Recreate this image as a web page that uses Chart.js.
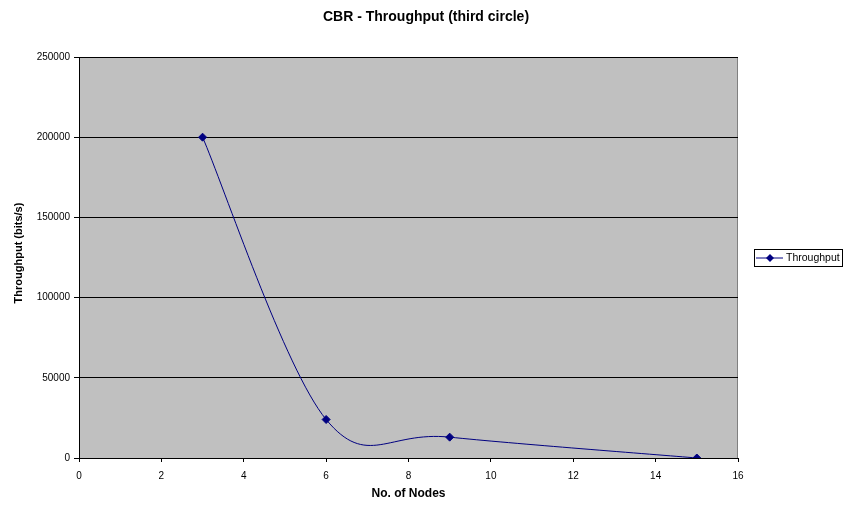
<!DOCTYPE html>
<html>
<head>
<meta charset="utf-8">
<script src="https://cdn.jsdelivr.net/npm/chart.js@4/dist/chart.umd.min.js"></script>
<style>
  html, body { margin: 0; padding: 0; background: #fff; }
  #wrap { width: 852px; height: 507px; }
</style>
</head>
<body>
<div id="wrap"><canvas id="chart" width="852" height="507"></canvas></div>
<script>
const nodes = [3, 6, 9, 15];
const throughput = [200000, 24000, 13000, 0];
const xTicks = [0, 2, 4, 6, 8, 10, 12, 14, 16];
const yTicks = [0, 50000, 100000, 150000, 200000, 250000];

const FONT = 'Liberation Sans, Arial, sans-serif';

// Excel-like smoothing: Catmull-Rom tangents (1/6) on the pixel positions
const excelSmooth = {
    id: 'excelSmooth',
    beforeDatasetDraw(chart, args) {
        const line = args.meta.dataset;
        const pts = args.meta.data;
        line.updateControlPoints(chart.chartArea);
        for (let i = 0; i < pts.length; i++) {
            const prev = pts[Math.max(i - 1, 0)];
            const next = pts[Math.min(i + 1, pts.length - 1)];
            const tx = (next.x - prev.x) / 6;
            const ty = (next.y - prev.y) / 6;
            pts[i].cp1x = pts[i].x - tx;
            pts[i].cp1y = pts[i].y - ty;
            pts[i].cp2x = pts[i].x + tx;
            pts[i].cp2y = pts[i].y + ty;
        }
    }
};

const plotBg = {
    id: 'plotBg',
    beforeDraw(chart) {
        const { ctx, chartArea: a } = chart;
        ctx.save();
        ctx.fillStyle = '#c0c0c0';
        ctx.fillRect(a.left, a.top, a.right - a.left, a.bottom - a.top);
        ctx.strokeStyle = '#808080';
        ctx.lineWidth = 1;
        ctx.strokeRect(a.left + 0.5, a.top + 0.5, a.right - a.left - 1, a.bottom - a.top);
        ctx.restore();
    },
    afterDraw(chart) {
        const { ctx, chartArea: a } = chart;
        ctx.save();
        ctx.fillStyle = '#000';
        ctx.textAlign = 'center';
        ctx.textBaseline = 'middle';
        ctx.font = 'bold 14px ' + FONT;
        ctx.fillText('CBR - Throughput (third circle)', 426, 17);
        ctx.font = 'bold 12px ' + FONT;
        ctx.fillText('No. of Nodes', (a.left + a.right) / 2, 494);
        ctx.font = 'bold 11px ' + FONT;
        ctx.save();
        ctx.translate(19, 253);
        ctx.rotate(-Math.PI / 2);
        ctx.fillText('Throughput (bits/s)', 0, 0);
        ctx.restore();

        // legend
        const lx = 754, ly = 249, lw = 88, lh = 17;
        ctx.fillStyle = '#fff';
        ctx.fillRect(lx, ly, lw, lh);
        ctx.strokeStyle = '#000';
        ctx.lineWidth = 1;
        ctx.strokeRect(lx + 0.5, ly + 0.5, lw, lh);
        const cy = ly + lh / 2 + 0.5;
        ctx.strokeStyle = '#000080';
        ctx.beginPath();
        ctx.moveTo(lx + 2, cy);
        ctx.lineTo(lx + 29, cy);
        ctx.stroke();
        ctx.fillStyle = '#000080';
        ctx.beginPath();
        ctx.moveTo(lx + 16, cy - 4);
        ctx.lineTo(lx + 20, cy);
        ctx.lineTo(lx + 16, cy + 4);
        ctx.lineTo(lx + 12, cy);
        ctx.closePath();
        ctx.fill();
        ctx.fillStyle = '#000';
        ctx.textAlign = 'left';
        ctx.font = '10.5px ' + FONT;
        ctx.fillText(chart.data.datasets[0].label, lx + 32, cy);
        ctx.restore();
    }
};

new Chart(document.getElementById('chart').getContext('2d'), {
    type: 'scatter',
    data: {
        datasets: [{
            label: 'Throughput',
            data: nodes.map((x, i) => ({ x: x, y: throughput[i] })),
            showLine: true,
            tension: 0.4,
            capBezierPoints: false,
            borderColor: '#000080',
            backgroundColor: '#000080',
            borderWidth: 1,
            pointStyle: 'rectRot',
            pointRadius: 4,
            pointHoverRadius: 4
        }]
    },
    options: {
        responsive: false,
        animation: false,
        layout: { padding: { left: 0, right: 114, top: 57, bottom: 0 } },
        plugins: {
            legend: { display: false },
            title: { display: false },
            tooltip: { enabled: false }
        },
        scales: {
            x: {
                type: 'linear',
                min: 0,
                max: 16,
                afterBuildTicks: s => { s.ticks = xTicks.map(v => ({ value: v })); },
                afterFit: s => { s.height = 49; },
                grid: { drawOnChartArea: false, color: '#000', tickLength: 4 },
                border: { color: '#000', width: 1 },
                ticks: { color: '#000', font: { family: FONT, size: 10 }, padding: 8, maxRotation: 0, callback: v => String(v) }
            },
            y: {
                min: 0,
                max: 250000,
                afterBuildTicks: s => { s.ticks = yTicks.map(v => ({ value: v })); },
                afterFit: s => { s.width = 79; },
                grid: { color: '#000', tickLength: 5 },
                border: { color: '#000', width: 1 },
                ticks: { color: '#000', font: { family: FONT, size: 10 }, padding: 4, callback: v => String(v) }
            }
        }
    },
    plugins: [excelSmooth, plotBg]
});
</script>
</body>
</html>
